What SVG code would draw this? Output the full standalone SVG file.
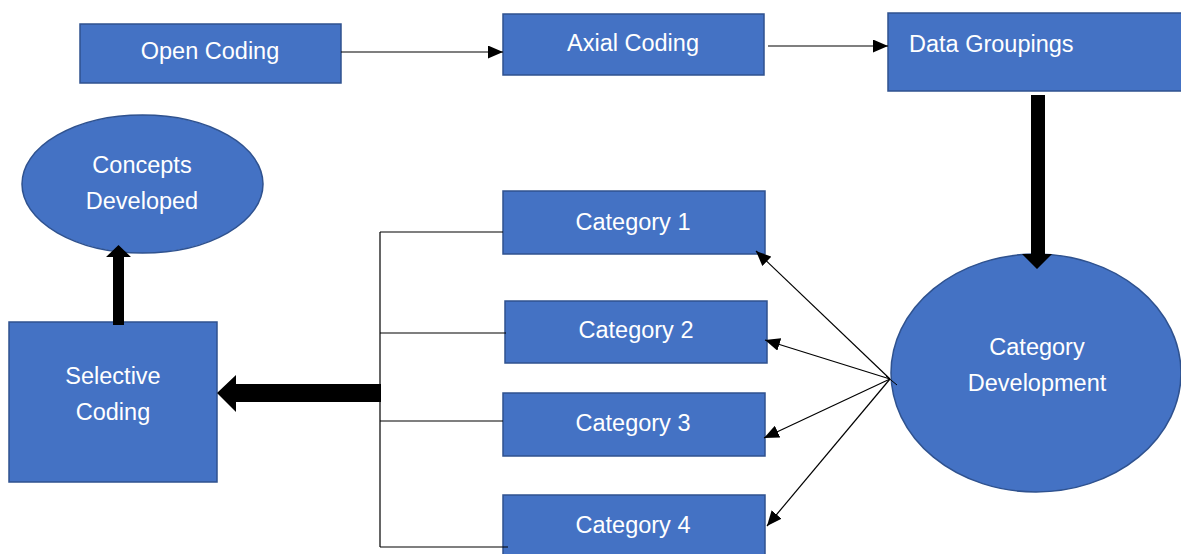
<svg xmlns="http://www.w3.org/2000/svg" width="1181" height="554" viewBox="0 0 1181 554">
<style>
.n{fill:#4472C4;stroke:#2F528F;stroke-width:1.5}
.t{fill:#fff;font-family:"Liberation Sans",Arial,sans-serif;font-size:23.5px;text-anchor:middle}
.l{stroke:#000;stroke-width:1.2;fill:none}
</style>
<defs>
<marker id="ah" markerWidth="15" markerHeight="13" refX="15" refY="6.5" orient="auto" markerUnits="userSpaceOnUse">
<path d="M0,0 L15,6.5 L0,13 Z" fill="#000"/>
</marker>
</defs>
<rect width="1181" height="554" fill="#fff"/>
<g id="open-coding"><rect class="n" x="80" y="24" width="261" height="59"/><text class="t" x="210" y="59">Open Coding</text></g>
<g id="axial-coding"><rect class="n" x="503" y="14" width="261" height="61"/><text class="t" x="633" y="51">Axial Coding</text></g>
<g id="data-groupings"><rect class="n" x="888" y="13" width="295" height="78"/><text class="t" x="909" y="52" style="text-anchor:start">Data Groupings</text></g>
<g id="category-development"><ellipse class="n" cx="1036" cy="373" rx="145" ry="119"/><text class="t" x="1037" y="355">Category</text><text class="t" x="1037" y="391">Development</text></g>
<g id="category-1"><rect class="n" x="503" y="191" width="262" height="63"/><text class="t" x="633" y="230">Category 1</text></g>
<g id="category-2"><rect class="n" x="505" y="301" width="262" height="62"/><text class="t" x="636" y="338">Category 2</text></g>
<g id="category-3"><rect class="n" x="503" y="393" width="262" height="63"/><text class="t" x="633" y="431">Category 3</text></g>
<g id="category-4"><rect class="n" x="503" y="495" width="262" height="65"/><text class="t" x="633" y="533">Category 4</text></g>
<g id="selective-coding"><rect class="n" x="9" y="322" width="208" height="160"/><text class="t" x="113" y="384">Selective</text><text class="t" x="113" y="420">Coding</text></g>
<g id="concepts-developed"><ellipse class="n" cx="142.5" cy="184" rx="120.5" ry="69"/><text class="t" x="142" y="173">Concepts</text><text class="t" x="142" y="209">Developed</text></g>
<g id="connectors">
<line class="l" x1="341" y1="52" x2="503" y2="52" marker-end="url(#ah)"/>
<line class="l" x1="768" y1="46" x2="888" y2="46" marker-end="url(#ah)"/>
<path d="M1031,95 H1045 V254 H1052 L1037,269 L1022,254 H1031 Z" fill="#000"/>
<line class="l" x1="890" y1="379" x2="756" y2="251" marker-end="url(#ah)"/>
<line class="l" x1="890" y1="379" x2="765" y2="340" marker-end="url(#ah)"/>
<line class="l" x1="890" y1="379" x2="764" y2="438" marker-end="url(#ah)"/>
<line class="l" x1="890" y1="379" x2="767" y2="526" marker-end="url(#ah)"/>
<line x1="897" y1="385" x2="886" y2="376" stroke="#000" stroke-width="1"/>
<path d="M380,232 V547 M380,232 H503 M380,333 H506 M380,421 H503 M380,547 H508" class="l"/>
<path d="M381,384 V402 H236 V412 L217,393 L236,375 V384 Z" fill="#000"/>
<path d="M113,325 V257 H106 L118.5,245 L131,257 H124 V325 Z" fill="#000"/>
</g>
</svg>
